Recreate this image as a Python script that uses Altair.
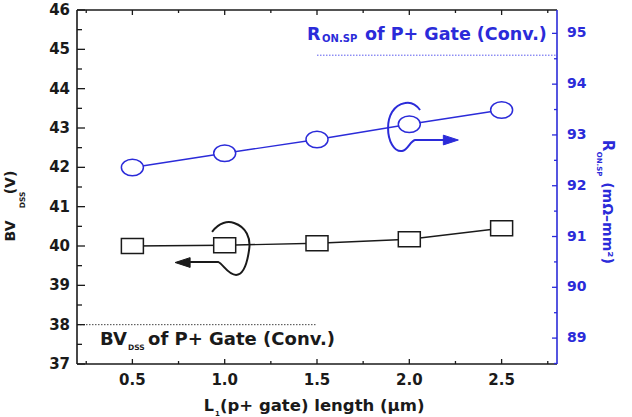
import altair as alt
import pandas as pd

# ---------------- data ----------------
L_UM = [0.5, 1.0, 1.5, 2.0, 2.5]
BV_DSS = [40.0, 40.02, 40.07, 40.17, 40.45]
R_ON_SP = [92.36, 92.64, 92.91, 93.21, 93.49]

X_TICKS = [0.5, 1.0, 1.5, 2.0, 2.5]
X_LABELS = ["0.5", "1.0", "1.5", "2.0", "2.5"]
X_MINOR = [0.25, 0.75, 1.25, 1.75, 2.25, 2.75]
BV_TICKS = [37, 38, 39, 40, 41, 42, 43, 44, 45, 46]
BV_MINOR = [37.5, 38.5, 39.5, 40.5, 41.5, 42.5, 43.5, 44.5, 45.5]
RON_TICKS = [89, 90, 91, 92, 93, 94, 95]
RON_MINOR = [88.5, 89.5, 90.5, 91.5, 92.5, 93.5, 94.5]

BV_CONV = 38.0
BV_CONV_X = [0.2, 1.5]
RON_CONV = 94.57
RON_CONV_X = [1.5, 2.8]

BV_NOTE = [0.325, 37.48]
RON_NOTE = [1.446, 94.87]
BV_LOOP = [1.04, 39.90]
BV_HEAD = [0.772, 39.58]
RON_LOOP = [1.977, 93.196]
RON_HEAD = [2.225, 92.90]

# ---------------- style ----------------
FONT = "DejaVu Sans"
BLACK = "#1a1a1a"
BLUE = "#2b2bd9"
W, H = 480, 354

SQUARE = "M -1 -0.68 L 1 -0.68 L 1 0.68 L -1 0.68 Z"
ELLIPSE = "M -1 0 A 1 0.75 0 1 0 1 0 A 1 0.75 0 1 0 -1 0 Z"
BV_LOOP_PATH = ("M -0.667 -0.6 C -0.433 -0.933 -0.133 -0.967 0.067 -0.9 "
                "C 0.467 -0.767 0.633 -0.4 0.567 0 C 0.5 0.467 0.367 0.833 0.133 0.833 "
                "C -0.133 0.833 -0.3 0.467 -0.467 0.4 L -1.4 0.4")
RON_LOOP_PATH = ("M 0.5 -0.5 C 0.333 -0.733 0.167 -0.767 0 -0.733 "
                 "C -0.4 -0.667 -0.567 -0.267 -0.567 0.1 C -0.567 0.533 -0.367 0.9 -0.1 0.867 "
                 "C 0.1 0.833 0.167 0.533 0.333 0.5 L 1.4 0.5")
HEAD_LEFT = "M -1 0 L 1 -0.65 L 1 0.65 Z"
HEAD_RIGHT = "M 1 0 L -1 -0.65 L -1 0.65 Z"

xs = alt.Scale(domain=[0.2, 2.8], nice=False, zero=False)
ysl = alt.Scale(domain=[37, 46], nice=False, zero=False)
ysr = alt.Scale(domain=[88.49, 95.46], nice=False, zero=False)

df = pd.DataFrame({"L": L_UM, "BV": BV_DSS, "RON": R_ON_SP})
one = alt.Data(values=[{}])


def X(f):
    return alt.X(f, scale=xs, axis=None)


def Y(f, ys):
    return alt.Y(f, scale=ys, axis=None)


def ptext(txt, x, y, size, angle=0, color=BLACK, align="center"):
    return alt.Chart(one).mark_text(
        text=txt, font=FONT, fontWeight="bold", fontSize=size, angle=angle,
        color=color, align=align, baseline="alphabetic"
    ).encode(x=alt.value(x), y=alt.value(y))


def dtext(txt, pos, ys, dx, dy, size, color):
    d = pd.DataFrame({"x": [pos[0]], "y": [pos[1]]})
    return alt.Chart(d).mark_text(
        text=txt, font=FONT, fontWeight="bold", fontSize=size, color=color,
        align="left", baseline="alphabetic", dx=dx, dy=dy
    ).encode(x=X("x:Q"), y=Y("y:Q", ys))


def shape_pt(path, pos, ys, size, color, filled, sw=2):
    d = pd.DataFrame({"x": [pos[0]], "y": [pos[1]]})
    kw = dict(shape=path, size=size, opacity=1, strokeWidth=sw)
    if filled:
        kw.update(filled=True, fill=color, stroke=color)
    else:
        kw.update(filled=False, stroke=color)
    return alt.Chart(d).mark_point(**kw).encode(x=X("x:Q"), y=Y("y:Q", ys))


def hticks(vals, ys, x0, x1, color):
    d = pd.DataFrame({"v": vals})
    return alt.Chart(d).mark_rule(color=color, strokeWidth=1.3).encode(
        y=Y("v:Q", ys), x=alt.value(x0), x2=alt.value(x1))


def vticks(vals, y0, y1):
    d = pd.DataFrame({"v": vals})
    return alt.Chart(d).mark_rule(color=BLACK, strokeWidth=1.3).encode(
        x=X("v:Q"), y=alt.value(y0), y2=alt.value(y1))


def frame_line(color, **enc):
    return alt.Chart(one).mark_rule(color=color, strokeWidth=1.6).encode(
        **{k: alt.value(v) for k, v in enc.items()})


# tick labels
x_lab = alt.Chart(pd.DataFrame({"v": X_TICKS, "t": X_LABELS})).mark_text(
    font=FONT, fontWeight="bold", fontSize=15, color=BLACK, baseline="top", align="center"
).encode(x=X("v:Q"), y=alt.value(H + 9), text="t:N")
yl_lab = alt.Chart(pd.DataFrame({"v": BV_TICKS, "t": [str(v) for v in BV_TICKS]})).mark_text(
    font=FONT, fontWeight="bold", fontSize=15, color=BLACK, baseline="middle", align="right"
).encode(y=Y("v:Q", ysl), x=alt.value(-7), text="t:N")
yr_lab = alt.Chart(pd.DataFrame({"v": RON_TICKS, "t": [str(v) for v in RON_TICKS]})).mark_text(
    font=FONT, fontWeight="bold", fontSize=14, color=BLUE, baseline="middle", align="left"
).encode(y=Y("v:Q", ysr), x=alt.value(W + 10), text="t:N")

# ---------------- left (BV) group ----------------
base = alt.Chart(df)
bv_line = base.mark_line(color=BLACK, strokeWidth=1.4).encode(x=X("L:Q"), y=Y("BV:Q", ysl))
bv_pts = base.mark_point(shape=SQUARE, size=484, filled=True, fill="white", stroke=BLACK,
                         strokeWidth=1.5, opacity=1).encode(x=X("L:Q"), y=Y("BV:Q", ysl))
bv_ref = alt.Chart(pd.DataFrame({"x0": [BV_CONV_X[0]], "x1": [BV_CONV_X[1]], "y": [BV_CONV]})).mark_rule(
    color="#444444", strokeWidth=1, strokeDash=[1.5, 1.5]).encode(
    x=X("x0:Q"), x2="x1:Q", y=Y("y:Q", ysl))

left = alt.layer(
    bv_line, bv_ref,
    frame_line(BLACK, x=0, x2=W, y=0),
    frame_line(BLACK, x=0, x2=W, y=H),
    frame_line(BLACK, x=0, y=0, y2=H),
    hticks(BV_TICKS, ysl, 0, 8, BLACK), hticks(BV_MINOR, ysl, 0, 5, BLACK),
    vticks(X_TICKS, H, H - 5), vticks(X_MINOR, H, H - 3),
    vticks(X_TICKS, 0, 5), vticks(X_MINOR, 0, 3),
    x_lab, yl_lab,
    shape_pt(BV_LOOP_PATH, BV_LOOP, ysl, 3600, BLACK, False, 2),
    shape_pt(HEAD_LEFT, BV_HEAD, ysl, 225, BLACK, True, 1),
    bv_pts,
    dtext("BV", BV_NOTE, ysl, 0, 0, 18, BLACK),
    dtext("DSS", BV_NOTE, ysl, 28, 5, 7.5, BLACK),
    dtext("of P+ Gate (Conv.)", BV_NOTE, ysl, 48, 0, 18, BLACK),
    # axis titles
    ptext("BV", -62, 221, 14, 270),
    ptext("DSS", -52, 190, 7.5, 270),
    ptext("(V)", -62, 172.5, 14, 270),
    ptext("L", 137, 401, 16, 0, BLACK, "right"),
    ptext("1", 138, 406, 7, 0, BLACK, "left"),
    ptext("(p+ gate) length (\u03bcm)", 143, 401, 16.5, 0, BLACK, "left"),
)

# ---------------- right (R_ON,SP) group ----------------
ron_line = base.mark_line(color=BLUE, strokeWidth=1.4).encode(x=X("L:Q"), y=Y("RON:Q", ysr))
ron_pts = base.mark_point(shape=ELLIPSE, size=484, filled=True, fill="white", stroke=BLUE,
                          strokeWidth=1.5, opacity=1).encode(x=X("L:Q"), y=Y("RON:Q", ysr))
ron_ref = alt.Chart(pd.DataFrame({"x0": [RON_CONV_X[0]], "x1": [RON_CONV_X[1]], "y": [RON_CONV]})).mark_rule(
    color="#5a5aee", strokeWidth=1, strokeDash=[1.5, 1.5]).encode(
    x=X("x0:Q"), x2="x1:Q", y=Y("y:Q", ysr))

right = alt.layer(
    ron_line, ron_ref,
    frame_line(BLUE, x=W, y=0, y2=H),
    hticks(RON_TICKS, ysr, W, W - 5, BLUE), hticks(RON_MINOR, ysr, W, W - 3, BLUE),
    yr_lab,
    shape_pt(RON_LOOP_PATH, RON_LOOP, ysr, 3600, BLUE, False, 2),
    shape_pt(HEAD_RIGHT, RON_HEAD, ysr, 225, BLUE, True, 1),
    ron_pts,
    dtext("R", RON_NOTE, ysr, 0, 0, 17.5, BLUE),
    dtext("ON.SP", RON_NOTE, ysr, 15, 2.5, 10, BLUE),
    dtext("of P+ Gate (Conv.)", RON_NOTE, ysr, 58, 0, 17.5, BLUE),
    ptext("R", 526, 135.5, 15, 90, BLUE),
    ptext("ON.SP", 520, 154, 7, 90, BLUE),
    ptext("(m\u03a9\u2013mm\u00b2)", 526, 213, 14, 90, BLUE),
)

chart = alt.layer(left, right).resolve_scale(y="independent").properties(
    width=W, height=H,
    autosize=alt.AutoSizeParams(type="none"),
    padding={"left": 77, "top": 10, "right": 75, "bottom": 53},
).configure_view(stroke=None)

chart.save("out.html", embed_options={"renderer": "svg", "actions": False})
